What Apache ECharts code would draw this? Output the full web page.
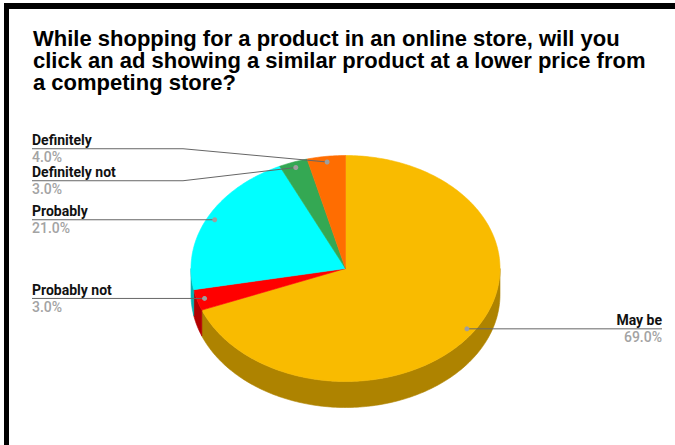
<!DOCTYPE html>
<html>
<head>
<meta charset="utf-8">
<title>Survey pie</title>
<script src="https://cdn.jsdelivr.net/npm/echarts@6/dist/echarts.min.js"></script>
<style>
  html, body { margin: 0; padding: 0; background: #fff; }
  #chart { width: 675px; height: 445px; }
</style>
</head>
<body>
<div id="chart"></div>
<script>
// Survey answers, drawn clockwise from 12 o'clock in this order
const categories = ['May be', 'Probably not', 'Probably', 'Definitely not', 'Definitely'];
const values = [69, 3, 21, 3, 4];
const valueLabels = ['69.0%', '3.0%', '21.0%', '3.0%', '4.0%'];
const sliceColors = ['#F9BB00', '#FF0000', '#00FFFF', '#34A853', '#FF6D01'];

const titleText = 'While shopping for a product in an online store, will you\nclick an ad showing a similar product at a lower price from\na competing store?';

// Tilted-disc geometry
const geo = { cx: 345.5, cy: 268.5, rx: 154.5, ry: 113, depth: 26, dotR: 0.95 };
const labelFont = 'Roboto, "Liberation Sans", Arial, sans-serif';
const leftTextX = 32, rightTextX = 662, leftElbowX = 183, rowGap = 32;

const total = values.reduce((a, b) => a + b, 0);

function pt(theta, k, dy) {
  return [geo.cx + geo.rx * k * Math.sin(theta), geo.cy - geo.ry * k * Math.cos(theta) + (dy || 0)];
}
function arc(a, b, k, dy) {
  const n = Math.max(2, Math.ceil((b - a) / (Math.PI / 180)));
  const pts = [];
  for (let i = 0; i <= n; i++) pts.push(pt(a + (b - a) * i / n, k, dy));
  return pts;
}
function shade(hex, f) {
  const v = parseInt(hex.slice(1), 16);
  const r = Math.round(((v >> 16) & 255) * f), g = Math.round(((v >> 8) & 255) * f), b = Math.round((v & 255) * f);
  return 'rgb(' + r + ',' + g + ',' + b + ')';
}

// Slice angles and label rows (overlapping rows are spread around their mean)
function layout() {
  let acc = 0;
  const items = values.map((v, i) => {
    const a = acc / total * Math.PI * 2;
    acc += v;
    const b = acc / total * Math.PI * 2;
    const mid = (a + b) / 2;
    const dot = pt(mid, geo.dotR, 0);
    return { i, a, b, dot, side: dot[0] < geo.cx ? 'left' : 'right', y: dot[1] };
  });
  ['left', 'right'].forEach(side => {
    const list = items.filter(d => d.side === side).sort((p, q) => p.dot[1] - q.dot[1]);
    let groups = list.map(d => [d]);
    let changed = true;
    while (changed) {
      changed = false;
      groups.forEach(g => {
        const mean = g.reduce((s, d) => s + d.dot[1], 0) / g.length;
        const start = mean - (g.length - 1) * rowGap / 2;
        g.forEach((d, k) => { d.y = start + k * rowGap; });
      });
      for (let k = 0; k < groups.length - 1; k++) {
        const lastY = groups[k][groups[k].length - 1].y;
        const nextY = groups[k + 1][0].y;
        if (nextY - lastY < rowGap) {
          groups[k] = groups[k].concat(groups[k + 1]);
          groups.splice(k + 1, 1);
          changed = true;
          break;
        }
      }
    }
  });
  return items;
}
const L = layout();

function renderItem(params, api) {
  const d = L[params.dataIndex];
  const color = sliceColors[params.dataIndex];
  const children = [];
  // front wall of the disc
  const s = Math.max(d.a, Math.PI / 2), e = Math.min(d.b, Math.PI * 1.5);
  if (e > s) {
    const top = arc(s, e, 1, 0);
    const bottom = arc(s, e, 1, geo.depth).reverse();
    children.push({
      type: 'polygon',
      shape: { points: top.concat(bottom) },
      style: { fill: shade(color, 0.7), stroke: shade(color, 0.7), lineWidth: 0.6 }
    });
  }
  // top face
  children.push({
    type: 'polygon',
    shape: { points: [[geo.cx, geo.cy]].concat(arc(d.a, d.b, 1, 0)) },
    style: { fill: color, stroke: color, lineWidth: 0.6 }
  });
  return { type: 'group', children: children };
}

function renderLabel(params, api) {
  const d = L[params.dataIndex];
  const children = [];
  const left = d.side === 'left';
  const tx = left ? leftTextX : rightTextX;
  let pts;
  if (Math.abs(d.y - d.dot[1]) < 2) {
    pts = [[tx, d.y], [d.dot[0], d.y]];
  } else {
    pts = [[tx, d.y], [left ? leftElbowX : rightTextX - 150, d.y], d.dot];
  }
  children.push({
    type: 'polyline',
    shape: { points: pts },
    style: { stroke: '#666666', lineWidth: 1, fill: null }
  });
  children.push({
    type: 'circle',
    shape: { cx: d.dot[0], cy: d.dot[1], r: 2.5 },
    style: { fill: '#9e9e9e' }
  });
  children.push({
    type: 'text',
    style: {
      x: tx, y: d.y - 8.5, text: categories[params.dataIndex],
      align: left ? 'left' : 'right', verticalAlign: 'middle',
      font: 'bold 14px ' + labelFont, fill: '#111111'
    }
  });
  children.push({
    type: 'text',
    style: {
      x: tx, y: d.y + 8.5, text: valueLabels[params.dataIndex],
      align: left ? 'left' : 'right', verticalAlign: 'middle',
      font: '500 14px ' + labelFont, fill: '#a3a3a3'
    }
  });
  return { type: 'group', children: children };
}

const chart = echarts.init(document.getElementById('chart'), null, { renderer: 'svg' });
chart.setOption({
  backgroundColor: '#ffffff',
  animation: false,
  title: {
    text: titleText,
    left: 33,
    top: 27,
    padding: 0,
    textStyle: {
      fontFamily: '"Liberation Sans", Arial, sans-serif',
      fontWeight: 'bold',
      fontSize: 22,
      lineHeight: 22,
      color: '#000000'
    }
  },
  graphic: [
    { type: 'rect', shape: { x: 4, y: 3, width: 671, height: 6 }, style: { fill: '#000' } },
    { type: 'rect', shape: { x: 4, y: 3, width: 5, height: 442 }, style: { fill: '#000' } }
  ],
  series: [
    {
      type: 'custom',
      coordinateSystem: 'none',
      renderItem: renderItem,
      data: values.map((v, i) => ({ name: categories[i], value: v })),
      z: 1
    },
    {
      type: 'custom',
      coordinateSystem: 'none',
      renderItem: renderLabel,
      data: values.map((v, i) => ({ name: categories[i], value: v })),
      z: 2
    }
  ]
});
</script>
</body>
</html>
